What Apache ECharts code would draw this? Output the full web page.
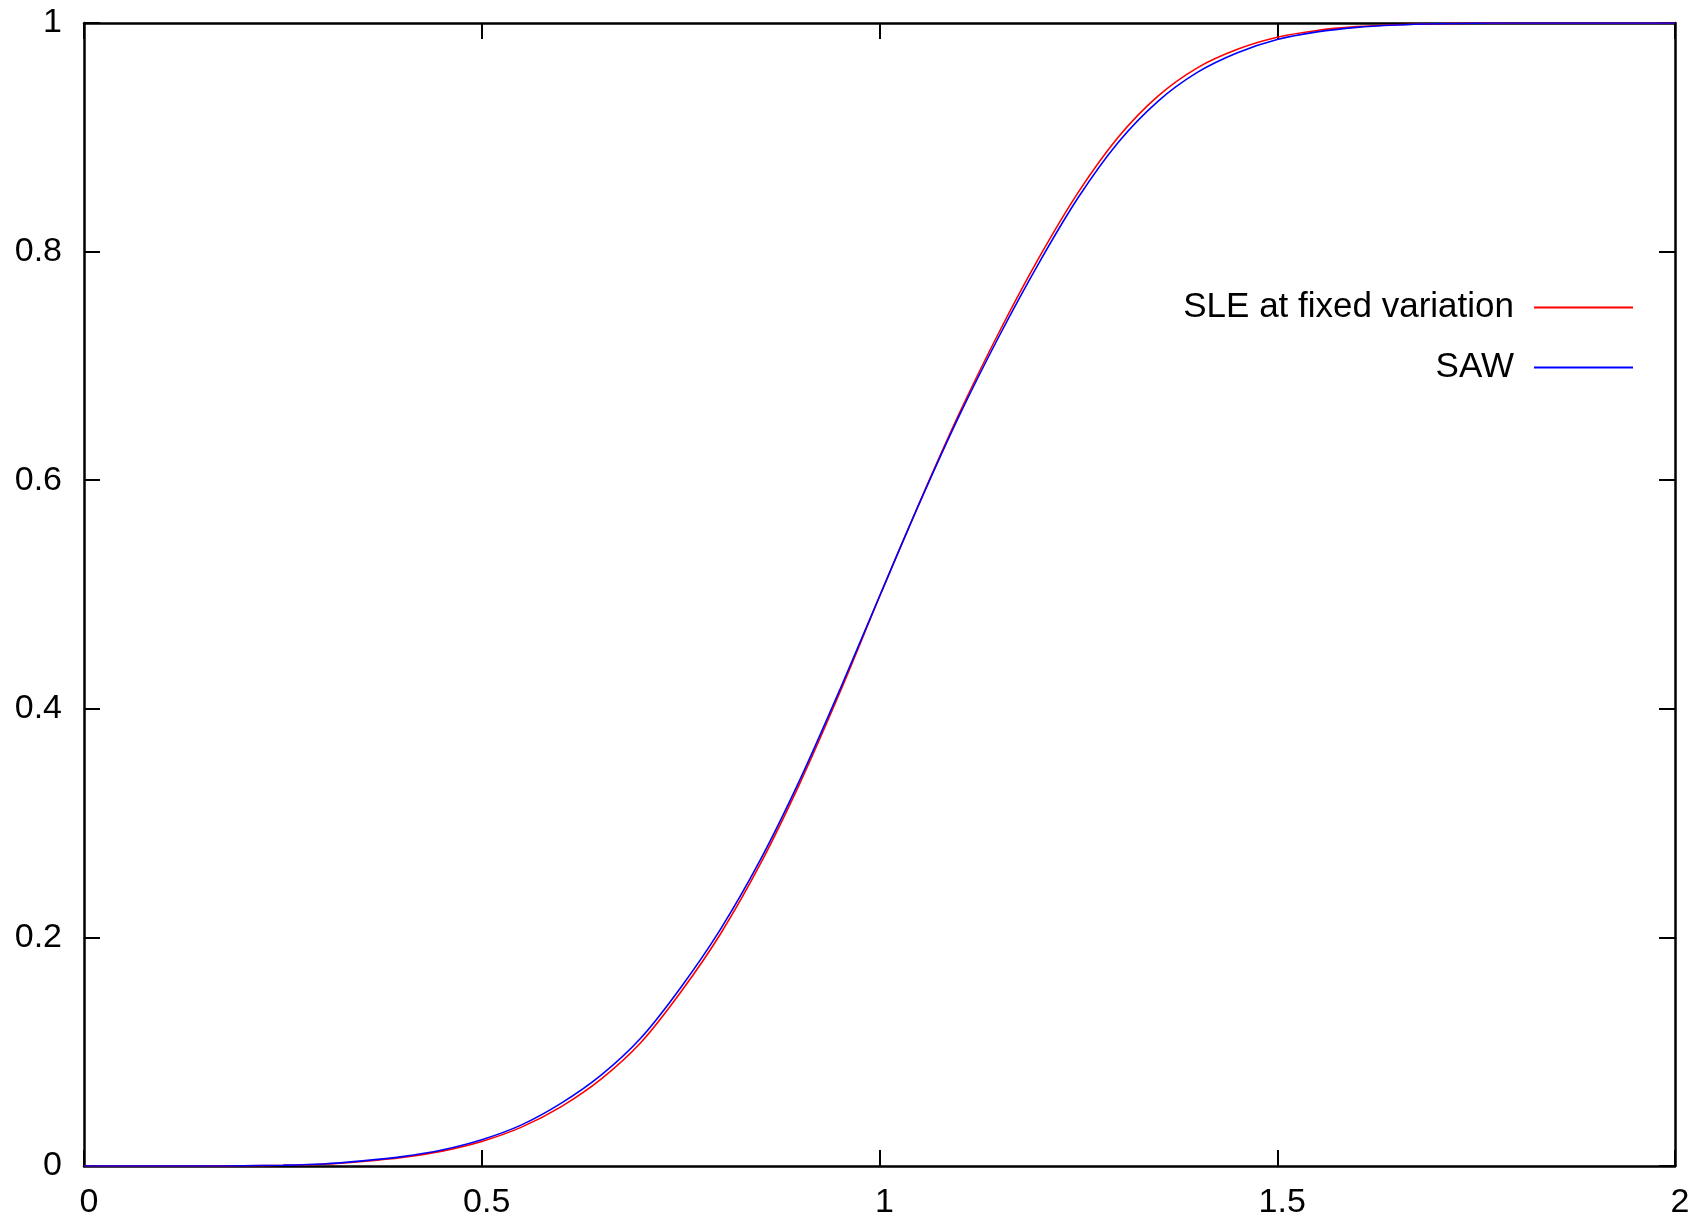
<!DOCTYPE html>
<html>
<head>
<meta charset="utf-8">
<script src="https://cdn.jsdelivr.net/npm/echarts@6/dist/echarts.min.js"></script>
<style>
html,body{margin:0;padding:0;background:#fff;}
#chart{width:1706px;height:1220px;}
</style>
</head>
<body>
<div id="chart"></div>
<script>
// x positions (shared by both curves)
const xs = [0,0.05,0.1,0.15,0.2,0.25,0.3,0.35,0.4,0.45,0.5,0.55,0.6,0.65,0.7,0.75,0.8,0.85,0.9,0.95,
            1.0,1.05,1.1,1.15,1.2,1.25,1.3,1.35,1.4,1.45,1.5,1.55,1.6,1.65,1.7,1.75,1.8,1.85,1.9,1.95,2.0];
// SLE at fixed variation
const sleValues = [0,0,0,0,0.0002,0.0006,0.0015,0.004,0.0075,0.013,0.0215,0.034,0.052,0.076,0.108,0.152,0.203,0.264,0.335,0.414,
                   0.498,0.58,0.658,0.729,0.794,0.852,0.9,0.936,0.961,0.977,0.9875,0.9935,0.9968,0.9985,0.9994,0.9998,1,1,1,1,1];
// SAW
const sawValues = [0,0,0,0,0.0002,0.0007,0.0018,0.0045,0.0082,0.014,0.023,0.036,0.055,0.0795,0.112,0.156,0.207,0.2675,0.338,0.4165,
                   0.4985,0.5795,0.656,0.7255,0.7895,0.8475,0.8955,0.9315,0.957,0.974,0.9855,0.9922,0.9962,0.9982,0.9993,0.9998,1,1,1,1,1];
const seriesNames = ['SLE at fixed variation','SAW'];
const xTicks = {min:0, max:2, interval:0.5};
const yTicks = {min:0, max:1, interval:0.2};

const FONT = "'Liberation Sans', Arial, sans-serif";
const pairs = (vals) => xs.map((x,i)=>[x, vals[i]]);

function axisBase(t, showLabel, pos){
  const isX = (pos==='bottom' || pos==='top');
  return {
    type:'value', min:t.min, max:t.max, interval:t.interval, position:pos,
    axisLine:{show:true, onZero:false, lineStyle:{color:'#000', width:2.5}},
    axisTick:{show:true, inside:true, length:16, lineStyle:{color:'#000', width:2}},
    axisLabel:{show:showLabel, color:'#000', fontSize:34, fontFamily:FONT,
               margin: isX ? 20 : 22, padding: isX ? [0,0,0,10] : 0},
    splitLine:{show:false}
  };
}

const chart = echarts.init(document.getElementById('chart'), null, {renderer:'canvas'});
chart.setOption({
  animation:false,
  backgroundColor:'#fff',
  grid:{left:84, right:31, top:23, bottom:53},
  xAxis:[axisBase(xTicks,true,'bottom'), axisBase(xTicks,false,'top')],
  yAxis:[axisBase(yTicks,true,'left'), axisBase(yTicks,false,'right')],
  legend:[
    {data:[seriesNames[0]], right:68, top:285, orient:'vertical', align:'right', icon:'rect',
     itemWidth:99, itemHeight:2, textStyle:{fontSize:35, fontFamily:FONT, color:'#000', padding:[0,15,0,0]}},
    {data:[seriesNames[1]], right:68, top:345, orient:'vertical', align:'right', icon:'rect',
     itemWidth:99, itemHeight:2, textStyle:{fontSize:35, fontFamily:FONT, color:'#000', padding:[0,15,0,0]}}
  ],
  series:[
    {name:seriesNames[0], type:'line', data:pairs(sleValues), symbol:'none', smooth:0.3,
     xAxisIndex:0, yAxisIndex:0, lineStyle:{color:'#ff0000', width:1.6}, itemStyle:{color:'#ff0000'}, clip:true},
    {name:seriesNames[1], type:'line', data:pairs(sawValues), symbol:'none', smooth:0.3,
     xAxisIndex:0, yAxisIndex:0, lineStyle:{color:'#0000ff', width:1.6}, itemStyle:{color:'#0000ff'}, clip:true}
  ]
});
</script>
</body>
</html>
